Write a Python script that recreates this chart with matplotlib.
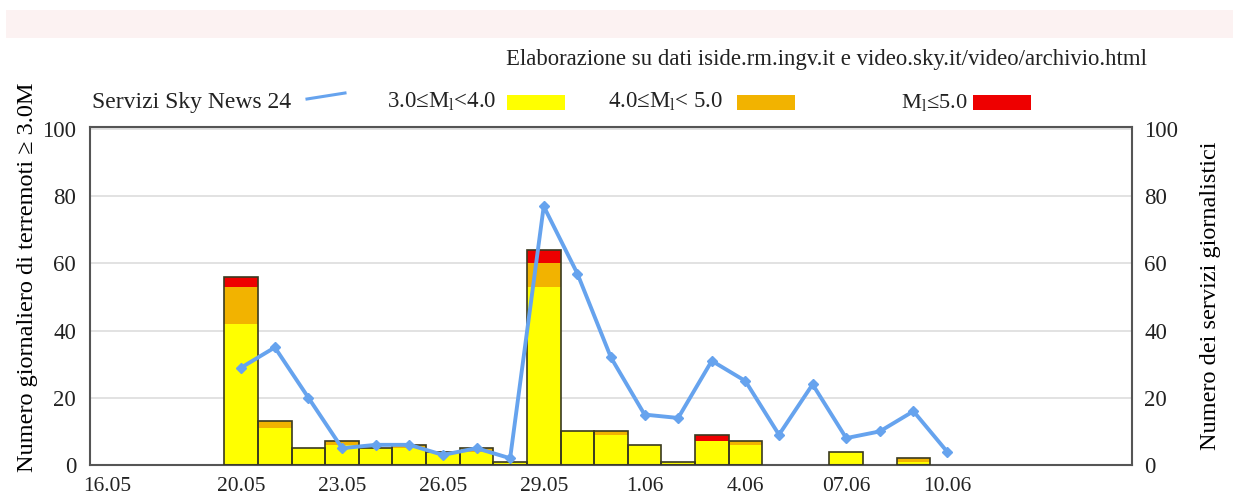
import numpy as np
import pandas as pd
import matplotlib
matplotlib.use("Agg")
import matplotlib.pyplot as plt
from matplotlib.patches import Rectangle
from matplotlib.lines import Line2D

# daily data, 20.05.2012 -> 10.06.2012
days = ["2012-05-20", "2012-05-21", "2012-05-22", "2012-05-23", "2012-05-24",
        "2012-05-25", "2012-05-26", "2012-05-27", "2012-05-28", "2012-05-29",
        "2012-05-30", "2012-05-31", "2012-06-01", "2012-06-02", "2012-06-03",
        "2012-06-04", "2012-06-05", "2012-06-06", "2012-06-07", "2012-06-08",
        "2012-06-09", "2012-06-10"]
mag_3_4 = [42, 11, 5, 6, 5, 5, 4, 4, 1, 53, 10, 9, 6, 1, 7, 6, 0, 0, 4, 0, 1, 0]
mag_4_5 = [11, 2, 0, 1, 0, 1, 0, 1, 0, 7, 0, 1, 0, 0, 0, 1, 0, 0, 0, 0, 1, 0]
mag_5 = [3, 0, 0, 0, 0, 0, 0, 0, 0, 4, 0, 0, 0, 0, 2, 0, 0, 0, 0, 0, 0, 0]
sky_news = [29, 35, 20, 5, 6, 6, 3, 5, 2, 77, 57, 32, 15, 14, 31, 25, 9, 24, 8, 10, 16, 4]

tick_days = ["2012-05-16", "2012-05-20", "2012-05-23", "2012-05-26", "2012-05-29",
             "2012-06-01", "2012-06-04", "2012-06-07", "2012-06-10"]
tick_labels = ["16.05", "20.05", "23.05", "26.05", "29.05", "1.06", "4.06", "07.06", "10.06"]

YELLOW = "#FFFF00"
ORANGE = "#F2B300"
RED = "#EE0000"
BLUE = "#66A3EE"
TXT = "#222222"

plt.rcParams['font.family'] = ['Liberation Serif', 'DejaVu Serif']

x = pd.to_datetime(days)
y1 = np.array(mag_3_4)
y2 = np.array(mag_4_5)
y3 = np.array(mag_5)
tot = y1 + y2 + y3

fig = plt.figure(figsize=(12.33, 4.97), dpi=100)
ax = fig.add_axes([0.073, 0.0644, 0.845, 0.680])

# pale band at the very top of the screenshot
fig.patches.append(Rectangle((0.005, 0.923), 0.995, 0.057, transform=fig.transFigure,
                             facecolor="#FCF2F2", edgecolor="none", zorder=0))

w = pd.Timedelta(days=1)
ax.bar(x, y1, width=w, color=YELLOW, linewidth=0, zorder=2)
ax.bar(x, y2, width=w, bottom=y1, color=ORANGE, linewidth=0, zorder=2)
ax.bar(x, y3, width=w, bottom=y1 + y2, color=RED, linewidth=0, zorder=2)
mask = tot > 0
ax.bar(x[mask], tot[mask], width=w, facecolor="none", edgecolor="#3a3a20",
       linewidth=1.2, zorder=3)

ax.set_xlim(pd.Timestamp("2012-05-15 12:00"), pd.Timestamp("2012-06-15 12:00"))
ax.set_ylim(0, 100.6)
ax.set_yticks([0, 20, 40, 60, 80, 100])
ax.set_xticks(pd.to_datetime(tick_days))
ax.set_xticklabels(tick_labels)
ax.grid(axis="y", color="#dddddd", linewidth=1.2, zorder=0)
ax.tick_params(length=0, colors=TXT)
ax.tick_params(axis="y", labelsize=16.5, pad=10)
ax.tick_params(axis="x", labelsize=15.5, pad=9)
for s in ax.spines.values():
    s.set_color("#555555")
    s.set_linewidth(1.5)
ax.set_ylabel("Numero giornaliero di terremoti ≥ 3.0M", fontsize=17.5)
ax.yaxis.set_label_coords(-0.05, 0.555)

ax2 = ax.twinx()
ax2.plot(x, sky_news, color=BLUE, linewidth=2.8, marker="D", markersize=5,
         zorder=4)
ax2.set_ylim(0, 100.6)
ax2.set_yticks([0, 20, 40, 60, 80, 100])
ax2.tick_params(length=0, labelsize=16.5, colors=TXT, pad=9)
for s in ax2.spines.values():
    s.set_visible(False)
ax2.set_ylabel("Numero dei servizi giornalistici", fontsize=17.5)
ax2.yaxis.set_label_coords(1.065, 0.5)

fig.text(1147 / 1233, 1 - 65 / 497,
         "Elaborazione su dati iside.rm.ingv.it e video.sky.it/video/archivio.html",
         ha="right", va="baseline", fontsize=16.4, color=TXT)

# legend row
ly = 1 - 108 / 497
fs = 16.5
fig.text(92 / 1233, ly, "Servizi Sky News 24", ha="left", va="baseline", fontsize=17, color=TXT)
fig.add_artist(Line2D([307 / 1233, 345 / 1233], [1 - 99 / 497, 1 - 93 / 497],
                      color=BLUE, linewidth=2.2, transform=fig.transFigure))
fig.text(387 / 1233, ly, "3.0≤M$\\mathregular{_l}$<4.0", ha="left", va="baseline", fontsize=fs, color=TXT)
fig.text(608 / 1233, ly, "4.0≤M$\\mathregular{_l}$< 5.0", ha="left", va="baseline", fontsize=fs, color=TXT)
fig.text(901 / 1233, ly, "M$\\mathregular{_l}$≤5.0", ha="left", va="baseline", fontsize=16.2, color=TXT)
for x0, c in [(507, YELLOW), (737, ORANGE), (973, RED)]:
    fig.patches.append(Rectangle((x0 / 1233, 1 - 110 / 497), 58 / 1233, 15 / 497,
                                 transform=fig.transFigure, facecolor=c, edgecolor="none"))

fig.savefig("out.png", dpi=100)
